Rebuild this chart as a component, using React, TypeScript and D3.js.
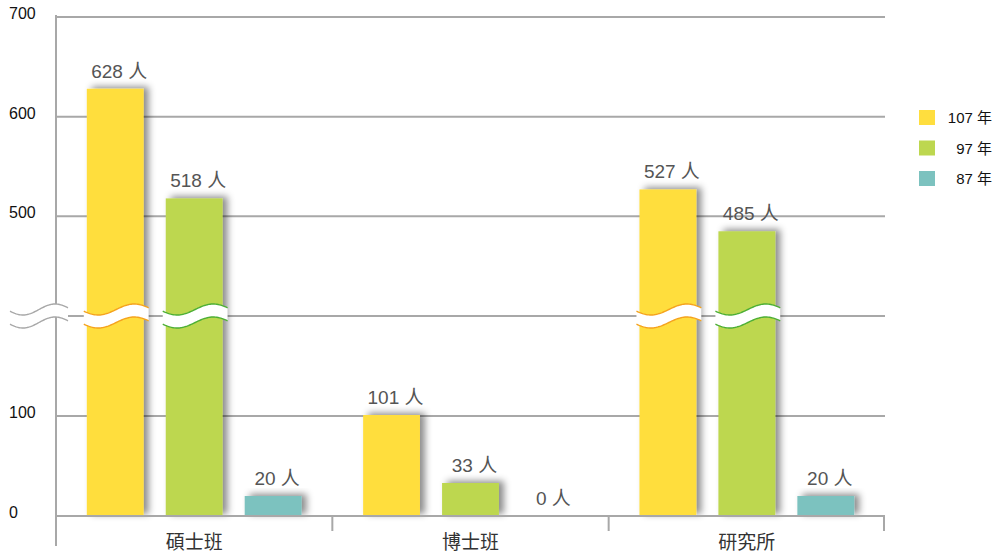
import React from "react";
import * as d3 from "d3";

const categories = ["碩士班", "博士班", "研究所"];
const seriesNames = ["107 年", "97 年", "87 年"];
const values107 = [628, 101, 527];
const values97 = [518, 33, 485];
const values87 = [20, 0, 20];
const tickValues = [0, 100, 500, 600, 700];
const breakValue = [200, 400];
const colors = ["#FFDE3E", "#BDD74F", "#7CC2BF"];
const breakStroke = ["#F5A31E", "#4DAF35", "#4DAF35"];
const unit = "人";

const W = 997;
const H = 553;
const axisX = 56;
const rightX = 885;
const y0 = 516;
const yTop = 17;
const breakY = 316;

const FONT = "'Liberation Sans', Arial, 'Noto Sans CJK TC', sans-serif";

export default function App() {
  const series = [values107, values97, values87];
  const y = d3
    .scaleLinear()
    .domain([0, breakValue[0], breakValue[1], 700])
    .range([y0, breakY, breakY, yTop]);
  const x0 = d3.scaleBand().domain(categories).range([axisX, rightX]);
  const x1 = d3
    .scaleBand()
    .domain(seriesNames)
    .range([0, x0.bandwidth()])
    .paddingInner(0.28)
    .paddingOuter(0.39);

  const wave = (xa: number, xb: number, cy: number, amp: number) => {
    const n = 48;
    const pts: [number, number][] = d3.range(n + 1).map((i) => {
      const t = i / n;
      return [xa + (xb - xa) * t, cy + amp * Math.sin(2 * Math.PI * (t * 0.9 + 0.05))];
    });
    return pts;
  };
  const line = d3.line<[number, number]>();
  const breakShape = (xa: number, xb: number, stroke: string, key: string) => {
    const up = wave(xa, xb, breakY - 6.5, 5.5);
    const lo = wave(xa, xb, breakY + 6.5, 5.5);
    const fillPts = [...up, ...lo.slice().reverse()];
    return (
      <g key={key}>
        <path d={line(fillPts) + "Z"} fill="#fff" />
        <path d={line(up) || ""} fill="none" stroke={stroke} strokeWidth={1.4} />
        <path d={line(lo) || ""} fill="none" stroke={stroke} strokeWidth={1.4} />
      </g>
    );
  };

  const bw = x1.bandwidth();

  return (
    <svg
      width={W}
      height={H}
      style={{ position: "absolute", left: 0, top: 0, background: "#fff" }}
      fontFamily={FONT}
    >
      <defs>
        <filter id="shadow" x="-40%" y="-40%" width="180%" height="180%">
          <feDropShadow dx={5} dy={-2} stdDeviation={3.5} floodColor="#000" floodOpacity={0.45} />
        </filter>
      </defs>

      {/* gridlines */}
      {[...tickValues.filter((v) => v > 0), breakValue[0]].map((v) => (
        <line
          key={"g" + v}
          x1={axisX}
          x2={rightX}
          y1={y(v)}
          y2={y(v)}
          stroke="#A8A8A8"
          strokeWidth={2}
        />
      ))}

      {/* bars */}
      {categories.map((c, ci) => (
        <g key={c}>
          {seriesNames.map((s, si) => {
            const v = series[si][ci];
            if (v <= 0) return null;
            return (
              <rect
                key={s}
                x={(x0(c) || 0) + (x1(s) || 0)}
                y={y(v)}
                width={bw}
                height={y0 - y(v)}
                fill={colors[si]}
                filter="url(#shadow)"
              />
            );
          })}
        </g>
      ))}

      {/* x axis */}
      <line x1={axisX} x2={rightX} y1={y0} y2={y0} stroke="#A8A8A8" strokeWidth={2} />
      {categories.map((c, i) =>
        i === 0 ? null : (
          <line
            key={"xt" + c}
            x1={x0(c)}
            x2={x0(c)}
            y1={y0}
            y2={y0 + 15}
            stroke="#A8A8A8"
            strokeWidth={2}
          />
        )
      )}
      <line x1={rightX - 1} x2={rightX - 1} y1={y0} y2={y0 + 15} stroke="#A8A8A8" strokeWidth={2} />
      {/* y axis */}
      <line x1={axisX} x2={axisX} y1={15} y2={546} stroke="#A8A8A8" strokeWidth={2} />

      {/* axis break */}
      {breakShape(10, 68, "#A8A8A8", "axisbreak")}

      {/* bar breaks */}
      {categories.map((c, ci) =>
        seriesNames.map((s, si) => {
          const v = series[si][ci];
          if (v < breakValue[1]) return null;
          const bx = (x0(c) || 0) + (x1(s) || 0);
          return breakShape(bx - 3, bx + bw + 5, breakStroke[si], "b" + ci + si);
        })
      )}

      {/* value labels */}
      {categories.map((c, ci) =>
        seriesNames.map((s, si) => {
          const v = series[si][ci];
          const bx = (x0(c) || 0) + (x1(s) || 0);
          return (
            <text
              key={"l" + ci + si}
              x={bx + bw / 2 + 4}
              y={y(v) - 11}
              textAnchor="middle"
              fontSize={19}
              fill="#555"
            >
              {v} {unit}
            </text>
          );
        })
      )}

      {/* y tick labels */}
      {tickValues.map((v) => (
        <text key={"t" + v} x={9} y={y(v) + 2} fontSize={16} fill="#111">
          {v}
        </text>
      ))}

      {/* category labels */}
      {categories.map((c) => (
        <text
          key={"c" + c}
          x={(x0(c) || 0) + x0.bandwidth() / 2}
          y={549}
          textAnchor="middle"
          fontSize={19}
          fill="#333"
        >
          {c}
        </text>
      ))}

      {/* legend */}
      {seriesNames.map((s, i) => (
        <g key={"lg" + s}>
          <rect x={919} y={110 + i * 30.5} width={16} height={15} fill={colors[i]} />
          <text x={992} y={123 + i * 30.5} textAnchor="end" fontSize={15} fill="#111">
            {s}
          </text>
        </g>
      ))}
    </svg>
  );
}
